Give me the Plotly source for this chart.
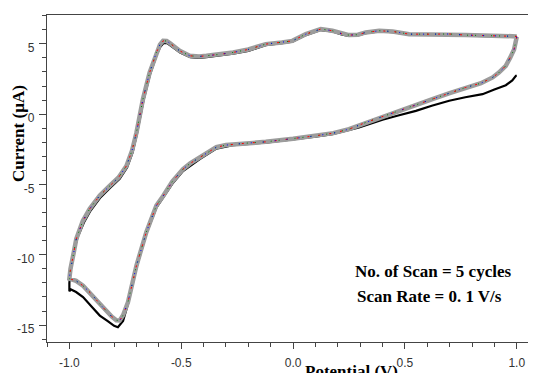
import plotly.graph_objects as go

# Cycles 2-5 (overlapping): cathodic sweep 1.0 -> -1.0 then anodic sweep -1.0 -> 1.0
loop_x = [1.0, 0.995, 0.988, 0.97, 0.951, 0.92, 0.892, 0.84, 0.772, 0.70, 0.623, 0.55, 0.474,
          0.40, 0.325, 0.25, 0.18, 0.10, 0.0, -0.122, -0.2, -0.268, -0.30, -0.343, -0.38,
          -0.417, -0.46, -0.492, -0.54, -0.58, -0.611, -0.656, -0.70, -0.738, -0.76, -0.775,
          -0.79, -0.81, -0.84, -0.864, -0.90, -0.939, -0.97, -1.0,
          -0.995, -0.991, -0.98, -0.969, -0.94, -0.909, -0.864, -0.82, -0.78, -0.745, -0.72,
          -0.70, -0.671, -0.641, -0.611, -0.595, -0.581, -0.565, -0.551, -0.53, -0.507,
          -0.462, -0.42, -0.387, -0.33, -0.268, -0.2, -0.122, -0.05, -0.003, 0.057, 0.124,
          0.176, 0.22, 0.25, 0.29, 0.325, 0.385, 0.445, 0.519, 0.623, 0.70, 0.772, 0.85,
          0.921, 1.0]
loop_y = [5.5, 5.0, 4.6, 4.0, 3.44, 2.95, 2.61, 2.2, 1.9, 1.5, 1.07, 0.65, 0.23,
          -0.2, -0.59, -1.07, -1.35, -1.54, -1.75, -1.97, -2.05, -2.13, -2.2, -2.35, -2.7,
          -3.08, -3.5, -3.91, -4.8, -5.8, -6.5, -8.39, -10.76, -13.37, -14.3, -14.67,
          -14.65, -14.4, -13.9, -13.5, -12.8, -12.2, -11.85, -11.7,
          -11.0, -10.76, -9.8, -8.87, -7.6, -6.73, -5.78, -5.1, -4.5, -3.68, -2.6,
          -1.3, 1.07, 2.97, 4.39, 4.95, 5.21, 5.2, 5.05, 4.8, 4.5,
          4.15, 4.1, 4.15, 4.25, 4.39, 4.6, 4.98, 5.1, 5.21, 5.69, 6.05,
          5.93, 5.7, 5.62, 5.65, 5.81, 5.93, 5.88, 5.69, 5.69, 5.7, 5.62, 5.6,
          5.57, 5.53]

# Cycle 1 (black)
c1_x = [1.0, 0.996, 0.98, 0.951, 0.9, 0.847, 0.77, 0.698, 0.62, 0.549, 0.47, 0.4, 0.295,
        0.176, 0.10, 0.0, -0.122, -0.268, -0.343, -0.417, -0.492, -0.54, -0.611, -0.656,
        -0.70, -0.738, -0.76, -0.783, -0.80, -0.83, -0.864, -0.90, -0.939, -0.97, -0.995,
        -1.0, -1.0, -0.995, -0.988, -0.978, -0.962, -0.935, -0.905, -0.86, -0.815, -0.775,
        -0.742, -0.717, -0.698, -0.669, -0.639, -0.609, -0.593, -0.579, -0.563, -0.549,
        -0.528, -0.505, -0.46, -0.42, -0.387, -0.33, -0.268, -0.2, -0.122, -0.05, -0.003,
        0.057, 0.124, 0.176, 0.22, 0.25, 0.29, 0.325, 0.385, 0.445, 0.519, 0.623, 0.70,
        0.772, 0.85, 0.921, 1.0]
c1_y = [2.72, 2.72, 2.4, 2.06, 1.75, 1.42, 1.2, 0.95, 0.6, 0.23, -0.1, -0.4, -0.95,
        -1.42, -1.6, -1.8, -2.02, -2.2, -2.45, -3.2, -4.05, -4.95, -6.65, -8.5,
        -10.9, -13.5, -14.7, -15.15, -15.05, -14.7, -14.32, -13.7, -13.0, -12.65, -12.45,
        -12.6, -12.0, -11.2, -10.5, -9.6, -8.7, -7.7, -6.85, -5.9, -5.2, -4.6,
        -3.8, -2.7, -1.4, 0.95, 2.85, 4.25, 4.8, 5.05, 5.05, 4.9,
        4.65, 4.38, 4.05, 4.0, 4.05, 4.15, 4.3, 4.5, 4.9, 5.05, 5.15,
        5.62, 5.98, 5.88, 5.65, 5.57, 5.6, 5.76, 5.88, 5.83, 5.65, 5.65, 5.66,
        5.58, 5.56, 5.53, 5.5]

x_ticks = [-1.0, -0.5, 0.0, 0.5, 1.0]
x_tick_labels = ["-1.0", "-0.5", "0.0", "0.5", "1.0"]
y_ticks = [5, 0, -5, -10, -15]
y_tick_labels = ["5", "0", "-5", "-10", "-15"]

fig = go.Figure()
fig.add_trace(go.Scatter(x=c1_x, y=c1_y, mode="lines", line=dict(color="black", width=2.2),
                         name="Cycle 1"))
fig.add_trace(go.Scatter(x=loop_x, y=loop_y, mode="lines", line=dict(color="#9c9c9c", width=4.5),
                         name="Cycle 5"))
for col, dash in [("green", "1px,7px"), ("red", "2px,9px"), ("blue", "1px,11px")]:
    fig.add_trace(go.Scatter(x=loop_x, y=loop_y, mode="lines",
                             line=dict(color=col, width=1, dash=dash), name=col))

tickfont = dict(family="Liberation Sans, Arial, sans-serif", size=12, color="#333")
fig.update_xaxes(range=[-1.1, 1.086], tickvals=x_ticks, ticktext=x_tick_labels,
                 showline=True, linecolor="#444", linewidth=1.3, mirror=True,
                 ticks="outside", ticklen=6, tickcolor="#444", tickwidth=1.2,
                 minor=dict(dtick=0.1, tick0=0, ticks="outside", ticklen=4, tickcolor="#444"),
                 showgrid=False, zeroline=False, tickfont=tickfont, ticklabelstandoff=3)
fig.update_yaxes(range=[-16.2, 7.05], tickvals=y_ticks, ticktext=y_tick_labels,
                 showline=True, linecolor="#444", linewidth=1.3,
                 ticks="outside", ticklen=7, tickcolor="#444", tickwidth=1.2,
                 minor=dict(dtick=1, tick0=0, ticks="outside", ticklen=4, tickcolor="#444"),
                 showgrid=False, zeroline=False, tickfont=tickfont, ticklabelshift=4,
                 ticklabelstandoff=2)

serif_b = dict(family="Liberation Serif, Times New Roman, serif", size=17, color="black")
fig.add_annotation(text="<b>No. of Scan = 5 cycles</b>", x=0.627, y=-11.17, xref="x", yref="y",
                   showarrow=False, font=serif_b)
fig.add_annotation(text="<b>Scan Rate = 0. 1 V/s</b>", x=0.611, y=-13.0, xref="x", yref="y",
                   showarrow=False, font=serif_b)
fig.add_annotation(text="<b>Potential (V)</b>", x=0.262, y=-0.055, xref="x", yref="paper",
                   yanchor="top", showarrow=False,
                   font=dict(family="Liberation Serif, Times New Roman, serif", size=17, color="black"))
fig.add_annotation(text="<b>Current (µA)</b>", x=-0.083, y=0.639, xref="paper", yref="paper",
                   textangle=-90, showarrow=False,
                   font=dict(family="Liberation Serif, Times New Roman, serif", size=17, color="black"))

# page body has an 8px default margin, so the figure is shifted by 8px
fig.update_layout(width=528, height=365, margin=dict(l=39, r=0, t=7, b=31, autoexpand=False),
                  plot_bgcolor="white", paper_bgcolor="white", showlegend=False)
fig.write_html("out.html")
